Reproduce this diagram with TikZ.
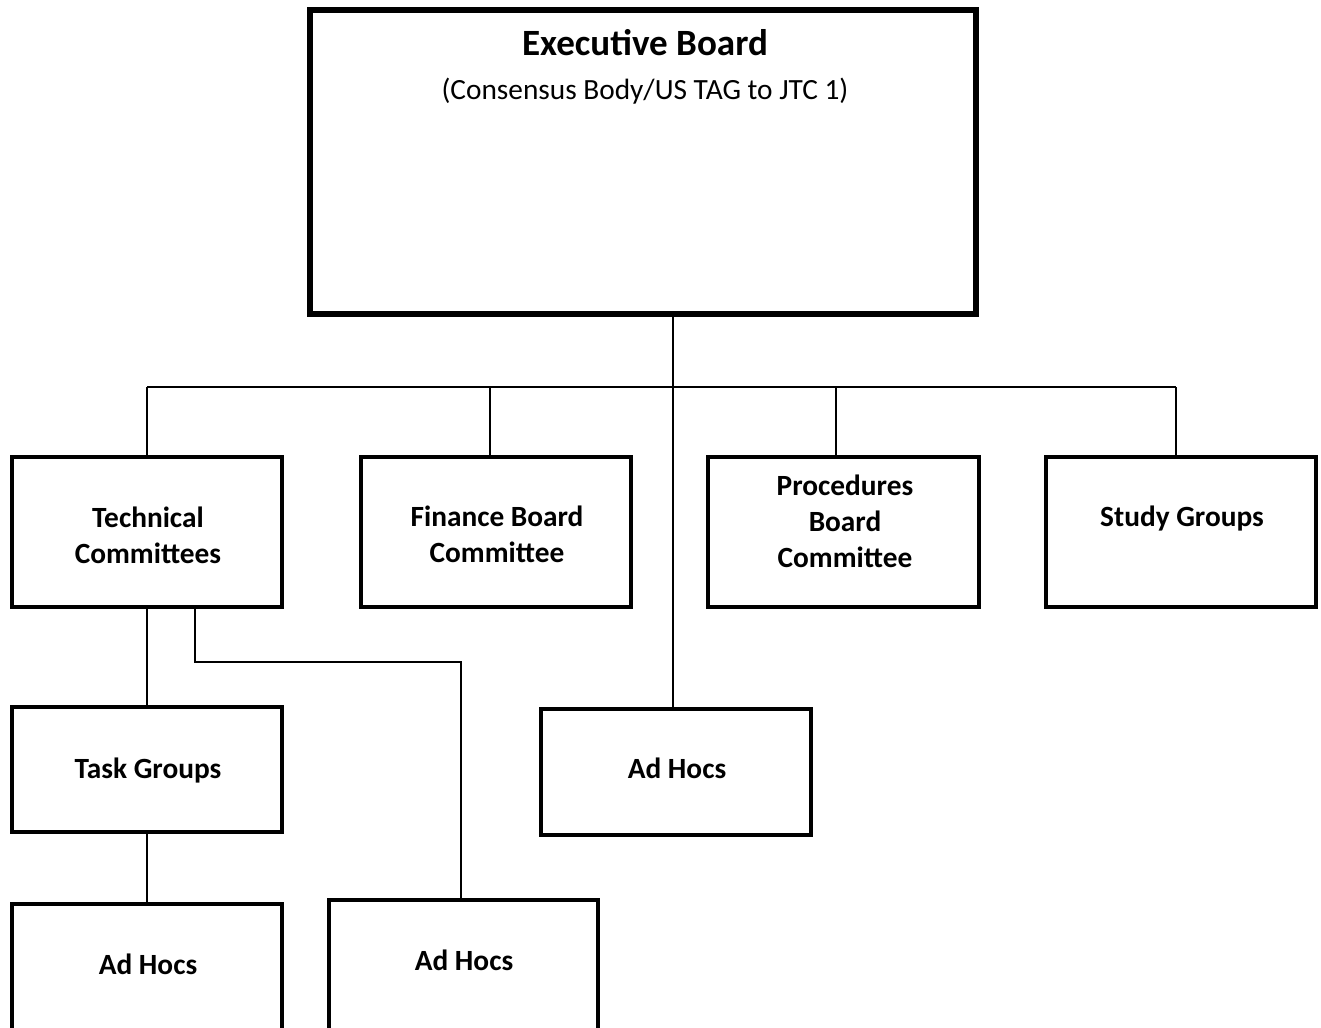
\documentclass[tikz,border=0pt]{standalone}
\usepackage{fontspec}
\setmainfont{Carlito}
\usetikzlibrary{fit}
\begin{document}
\begin{tikzpicture}[x=0.75pt,y=-0.75pt,
  box/.style={draw, line width=2.6pt, inner sep=0pt},
  bigbox/.style={draw, line width=3.8pt, inner sep=0pt},
  conn/.style={draw, line width=1.1pt},
  lbl/.style={font=\fontsize{22pt}{27pt}\selectfont\bfseries, align=center, anchor=base, inner sep=0pt},
  ttl/.style={font=\fontsize{27.8pt}{33pt}\selectfont\bfseries, anchor=base, inner sep=0pt},
  sub/.style={font=\fontsize{22pt}{26pt}\selectfont, anchor=base, inner sep=0pt}]
\useasboundingbox (0,0) rectangle (1321,1028);
\clip (0,0) rectangle (1321,1028);
\fill[white] (0,0) rectangle (1321,1028);
% boxes
\node[bigbox, fit={(310,10) (976,314)}] (eb) {};
\node[box, fit={(12,457) (282,607)}] (tc) {};
\node[box, fit={(361,457) (631,607)}] (fb) {};
\node[box, fit={(708,457) (979,607)}] (pb) {};
\node[box, fit={(1046,457) (1316,607)}] (sg) {};
\node[box, fit={(12,707) (282,832)}] (tg) {};
\node[box, fit={(541,709) (811,835)}] (ahm) {};
\node[box, fit={(12,904) (282,1080)}] (ahl) {};
\node[box, fit={(329,900) (598,1080)}] (ahb) {};
% texts (base anchor = baseline of the last line)
\node[ttl] (ebt) at (645,55) {Executive Board};
\node[sub] (ebs) at (645,99) {(Consensus Body/US TAG to JTC 1)};
\node[lbl] (tct) at (148,563) {Technical\\Committees};
\node[lbl] (fbt) at (497,562) {Finance Board\\Committee};
\node[lbl] (pbt) at (845,567) {Procedures\\Board\\Committee};
\node[lbl] (sgt) at (1182,526) {Study Groups};
\node[lbl] (tgt) at (148,778) {Task Groups};
\node[lbl] (ahmt) at (677,778) {Ad Hocs};
\node[lbl] (ahlt) at (148,974) {Ad Hocs};
\node[lbl] (ahbt) at (464,970) {Ad Hocs};
% connectors
\coordinate (trunk) at (673,387);
\coordinate (busL) at (147,387);
\coordinate (busR) at (1176,387);
\coordinate (fbx) at (490,387);
\coordinate (pbx) at (836,387);
\coordinate (tcb) at (195,662);
\coordinate (tcc) at (461,662);
\draw[conn] (eb.south -| trunk) -- (ahm.north -| trunk);
\draw[conn] (busL) -- (busR);
\draw[conn] (busL) -- (tc.north -| busL);
\draw[conn] (fbx) -- (fb.north -| fbx);
\draw[conn] (pbx) -- (pb.north -| pbx);
\draw[conn] (busR) -- (sg.north -| busR);
\draw[conn] (tc.south -| busL) -- (tg.north -| busL);
\draw[conn] (tc.south -| tcb) -- (tcb) -- (tcc) -- (ahb.north -| tcc);
\draw[conn] (tg.south -| busL) -- (ahl.north -| busL);
\end{tikzpicture}
\end{document}
